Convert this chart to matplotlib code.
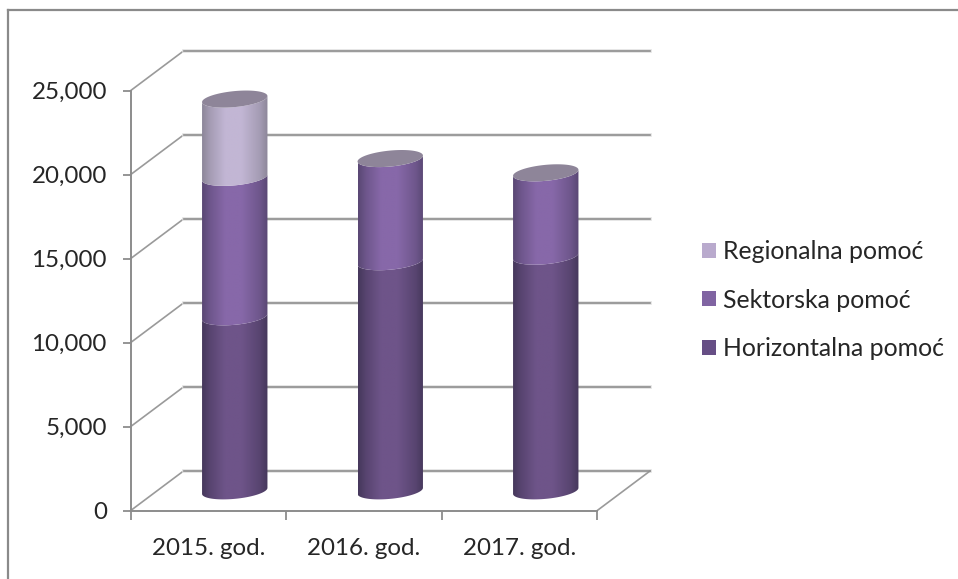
import numpy as np
import matplotlib
matplotlib.use("Agg")
import matplotlib.pyplot as plt
from matplotlib.path import Path
from matplotlib.patches import PathPatch, Patch
from matplotlib.lines import Line2D
from matplotlib.ticker import FuncFormatter

categories = ["2015. god.", "2016. god.", "2017. god."]
horizontalna = [10360, 13640, 13970]
sektorska = [8300, 6140, 4960]
regionalna = [4660, 0, 0]
series_names = ["Horizontalna pomoć", "Sektorska pomoć", "Regionalna pomoć"]
legend_colors = ["#664e85", "#8064a2", "#b9aacd"]
edge_colors = ["#46385c", "#5a4874", "#8d879a"]
mid_colors = ["#6e5489", "#8768a9", "#c2b6d4"]
cap_color = "#8e8599"
y_ticks = [0, 5000, 10000, 15000, 20000, 25000]

W, H = 958, 579
plt.rcParams["font.family"] = ["Lato", "DejaVu Sans"]
fs = 17.4
fs_legend = 17.9
txt = "#262626"
fig = plt.figure(figsize=(W / 100, H / 100), dpi=100)
x0, x1, y0, y1 = 130.5, 597.0, 510.7, 90.7
ax = fig.add_axes([x0 / W, 1 - y0 / H, (x1 - x0) / W, (y0 - y1) / H])
ax.patch.set_alpha(0)

ux = 3 / (x1 - x0)      # data per pixel, x
uy = 25000 / (y0 - y1)  # data per pixel, y
depth_x, depth_y = 53 * ux, 39.7 * uy

grid_dark, grid_side = "#8f8f8f", "#9a9a9a"
for v in y_ticks:
    ax.plot([0, depth_x], [v, v + depth_y], color=grid_side, lw=1.2, clip_on=False, zorder=1)
    ax.plot([depth_x, 3 + depth_x], [v + depth_y, v + depth_y], color="#e0e0e0", lw=2.6, clip_on=False, zorder=1)
    ax.plot([depth_x, 3 + depth_x], [v + depth_y, v + depth_y], color=grid_dark, lw=1.2, clip_on=False, zorder=1.1)
ax.plot([3, 3 + depth_x], [0, depth_y], color=grid_side, lw=1.2, clip_on=False, zorder=1)


def band(cx, low, high, edge, mid, cap=False):
    a, b, s = 32.7 * ux, 8.0 * uy, 3.0 * uy
    t = np.linspace(np.pi, 2 * np.pi, 60)
    lx = cx + a * np.cos(t)
    lo = low + s * np.cos(t) + b * np.sin(t)
    hi = high + s * np.cos(t) + b * np.sin(t)
    xs = np.r_[lx, lx[::-1], lx[0]]
    ys = np.r_[lo, hi[::-1], lo[0]]
    patch = PathPatch(Path(np.c_[xs, ys]), fc="none", ec="none", transform=ax.transData)
    ax.add_patch(patch)
    e, m = np.array(matplotlib.colors.to_rgb(edge)), np.array(matplotlib.colors.to_rgb(mid))
    pos = np.linspace(0, 1, 64)
    prof = np.interp(pos, [0, 0.12, 0.35, 0.6, 0.88, 1], [0, 0.45, 1, 1, 0.45, 0])
    grad = e[None, None, :] + (m - e)[None, None, :] * prof[None, :, None]
    im = ax.imshow(grad, extent=[cx - a, cx + a, low - 12 * uy, high + 12 * uy], aspect="auto",
                   interpolation="bilinear", zorder=3, origin="lower")
    im.set_clip_path(patch)
    im.set_clip_box(fig.bbox)
    if cap:
        t2 = np.linspace(0, 2 * np.pi, 120)
        ax.fill(cx + a * np.cos(t2), high + s * np.cos(t2) + b * np.sin(t2),
                color=cap_color, lw=0, zorder=4, clip_on=False)


stacks = [horizontalna, sektorska, regionalna]
for i in range(len(categories)):
    cx = i + 0.5 + depth_x / 2
    base = depth_y / 2
    vals = [s[i] for s in stacks]
    top_idx = max(j for j, v in enumerate(vals) if v > 0)
    for j, v in enumerate(vals):
        if v <= 0:
            continue
        band(cx, base, base + v, edge_colors[j], mid_colors[j], cap=(j == top_idx))
        base += v

ax.set_xlim(0, 3)
ax.set_ylim(0, 25000)
for side in ("top", "right"):
    ax.spines[side].set_visible(False)
for side in ("left", "bottom"):
    ax.spines[side].set_color("#8c8c8c")
    ax.spines[side].set_linewidth(1.4)
ax.set_yticks(y_ticks)
ax.yaxis.set_major_formatter(FuncFormatter(lambda v, _: f"{int(v):,}"))
ax.set_xticks([0, 1, 2, 3])
ax.set_xticks([0.5, 1.5, 2.5], minor=True)
ax.set_xticklabels([])
ax.set_xticklabels(categories, minor=True)
ax.tick_params(axis="y", length=6, width=1.3, color="#8c8c8c", labelsize=fs, labelcolor=txt, pad=11)
ax.tick_params(axis="x", which="major", length=6.5, width=1.3, color="#8c8c8c")
ax.tick_params(axis="x", which="minor", length=0, labelsize=fs, labelcolor=txt, pad=20)

handles = [Patch(fc=legend_colors[j], ec="none", label=series_names[j]) for j in (2, 1, 0)]
fig.legend(handles=handles, loc="upper left", bbox_to_anchor=(701.5 / W, 1 - 240 / H), frameon=False,
           fontsize=fs_legend, labelcolor=txt, borderpad=0, borderaxespad=0, handlelength=0.57, handleheight=0.57,
           handletextpad=0.28, labelspacing=1.03)

for xs, ys in [([8, 8], [10, 579]), ([8, 958], [10, 10])]:
    fig.add_artist(Line2D([x / W for x in xs], [1 - y / H for y in ys], color="#8a8a8a", lw=1.6))

fig.savefig("out.png", dpi=100)
